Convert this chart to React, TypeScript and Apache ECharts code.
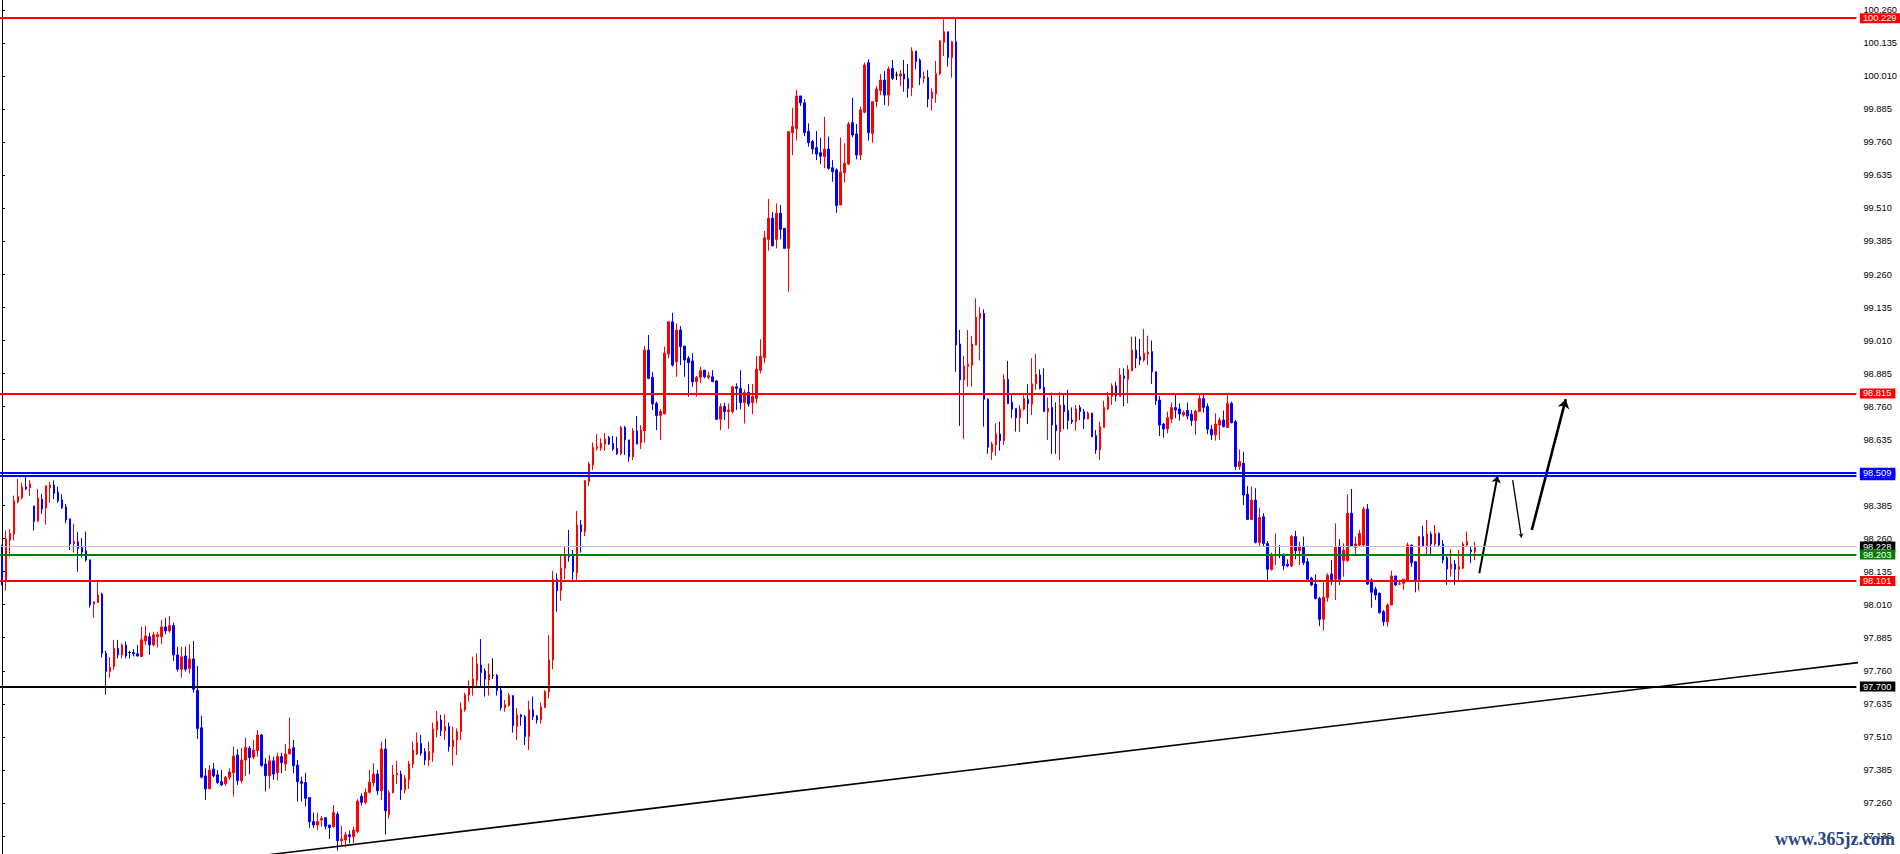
import React, { useEffect, useRef } from 'react';
import * as echarts from 'echarts';

// [open, close, low, high]
const candles: number[][] = [
  [98.180, 98.104, 98.083, 98.237], [98.102, 98.259, 98.063, 98.291], [98.255, 98.280, 98.192, 98.297], [98.278, 98.403, 98.253, 98.423],
  [98.400, 98.419, 98.394, 98.486], [98.415, 98.456, 98.409, 98.472], [98.456, 98.448, 98.444, 98.501], [98.453, 98.468, 98.422, 98.482],
  [98.384, 98.325, 98.291, 98.384], [98.327, 98.414, 98.323, 98.448], [98.409, 98.372, 98.354, 98.429], [98.376, 98.460, 98.313, 98.460],
  [98.453, 98.463, 98.396, 98.475], [98.463, 98.431, 98.410, 98.481], [98.436, 98.403, 98.396, 98.457], [98.407, 98.378, 98.372, 98.428],
  [98.380, 98.331, 98.318, 98.391], [98.335, 98.240, 98.217, 98.335], [98.241, 98.249, 98.207, 98.316], [98.248, 98.223, 98.135, 98.286],
  [98.226, 98.209, 98.189, 98.263], [98.214, 98.180, 98.173, 98.287], [98.180, 98.009, 97.999, 98.180], [98.013, 98.021, 97.961, 98.021],
  [98.018, 98.047, 98.018, 98.097], [98.051, 97.826, 97.810, 98.055], [97.826, 97.757, 97.669, 97.836], [97.757, 97.773, 97.734, 97.812],
  [97.776, 97.845, 97.763, 97.877], [97.845, 97.820, 97.807, 97.877], [97.820, 97.858, 97.807, 97.864], [97.858, 97.816, 97.807, 97.871],
  [97.829, 97.829, 97.807, 97.836], [97.829, 97.824, 97.814, 97.842], [97.824, 97.816, 97.814, 97.858], [97.814, 97.877, 97.814, 97.927],
  [97.873, 97.892, 97.858, 97.930], [97.889, 97.858, 97.820, 97.904], [97.858, 97.896, 97.852, 97.908], [97.889, 97.896, 97.848, 97.908],
  [97.889, 97.926, 97.861, 97.952], [97.926, 97.911, 97.899, 97.960], [97.911, 97.931, 97.904, 97.967], [97.931, 97.820, 97.798, 97.942],
  [97.820, 97.766, 97.757, 97.851], [97.766, 97.813, 97.734, 97.851], [97.816, 97.766, 97.757, 97.851], [97.769, 97.805, 97.750, 97.861],
  [97.805, 97.690, 97.677, 97.873], [97.685, 97.541, 97.502, 97.778], [97.544, 97.357, 97.353, 97.590], [97.362, 97.313, 97.271, 97.391],
  [97.313, 97.384, 97.313, 97.403], [97.388, 97.362, 97.357, 97.411], [97.366, 97.337, 97.332, 97.384], [97.340, 97.328, 97.324, 97.384],
  [97.332, 97.357, 97.324, 97.362], [97.357, 97.377, 97.347, 97.391], [97.374, 97.437, 97.284, 97.473], [97.441, 97.344, 97.328, 97.463],
  [97.344, 97.422, 97.334, 97.467], [97.422, 97.470, 97.362, 97.506], [97.467, 97.431, 97.368, 97.475], [97.433, 97.460, 97.425, 97.498],
  [97.458, 97.517, 97.435, 97.536], [97.517, 97.401, 97.397, 97.521], [97.407, 97.363, 97.303, 97.429], [97.363, 97.419, 97.313, 97.441],
  [97.419, 97.369, 97.347, 97.435], [97.374, 97.435, 97.344, 97.450], [97.435, 97.412, 97.372, 97.450], [97.407, 97.445, 97.381, 97.483],
  [97.445, 97.464, 97.445, 97.583], [97.469, 97.401, 97.372, 97.498], [97.403, 97.340, 97.265, 97.422], [97.340, 97.334, 97.265, 97.359],
  [97.337, 97.277, 97.246, 97.374], [97.280, 97.189, 97.166, 97.280], [97.189, 97.176, 97.164, 97.223], [97.176, 97.189, 97.157, 97.223],
  [97.195, 97.201, 97.170, 97.210], [97.204, 97.172, 97.160, 97.204], [97.176, 97.167, 97.123, 97.176], [97.170, 97.223, 97.166, 97.252],
  [97.218, 97.117, 97.079, 97.227], [97.117, 97.123, 97.097, 97.173], [97.119, 97.139, 97.092, 97.151], [97.139, 97.132, 97.107, 97.155],
  [97.132, 97.157, 97.107, 97.170], [97.151, 97.267, 97.145, 97.274], [97.285, 97.262, 97.250, 97.296], [97.262, 97.300, 97.255, 97.315],
  [97.300, 97.338, 97.296, 97.385], [97.336, 97.369, 97.322, 97.410], [97.369, 97.306, 97.290, 97.385], [97.306, 97.464, 97.271, 97.492],
  [97.464, 97.230, 97.140, 97.502], [97.215, 97.298, 97.200, 97.308], [97.298, 97.366, 97.296, 97.403], [97.366, 97.372, 97.332, 97.419],
  [97.369, 97.309, 97.271, 97.382], [97.309, 97.353, 97.296, 97.366], [97.347, 97.407, 97.313, 97.419], [97.407, 97.460, 97.391, 97.492],
  [97.445, 97.488, 97.441, 97.526], [97.485, 97.448, 97.439, 97.517], [97.454, 97.422, 97.403, 97.467], [97.422, 97.454, 97.400, 97.492],
  [97.450, 97.540, 97.416, 97.564], [97.536, 97.570, 97.508, 97.608], [97.574, 97.533, 97.513, 97.593], [97.533, 97.549, 97.498, 97.595],
  [97.549, 97.473, 97.454, 97.564], [97.473, 97.498, 97.401, 97.549], [97.498, 97.530, 97.441, 97.542], [97.530, 97.615, 97.498, 97.641],
  [97.612, 97.668, 97.605, 97.677], [97.668, 97.700, 97.643, 97.723], [97.700, 97.729, 97.666, 97.813], [97.723, 97.786, 97.694, 97.826],
  [97.782, 97.753, 97.700, 97.880], [97.759, 97.728, 97.662, 97.769], [97.725, 97.747, 97.666, 97.788], [97.742, 97.742, 97.729, 97.807],
  [97.742, 97.685, 97.666, 97.748], [97.687, 97.620, 97.609, 97.700], [97.620, 97.631, 97.605, 97.650], [97.628, 97.666, 97.624, 97.675],
  [97.666, 97.552, 97.526, 97.666], [97.549, 97.593, 97.498, 97.618], [97.593, 97.586, 97.552, 97.596], [97.586, 97.511, 97.479, 97.593],
  [97.511, 97.612, 97.460, 97.647], [97.612, 97.586, 97.574, 97.662], [97.589, 97.574, 97.560, 97.592], [97.574, 97.624, 97.560, 97.639],
  [97.622, 97.681, 97.618, 97.687], [97.681, 97.801, 97.656, 97.895], [97.801, 98.106, 97.766, 98.138], [98.106, 98.063, 97.984, 98.129],
  [98.063, 98.148, 98.025, 98.198], [98.148, 98.194, 98.106, 98.230], [98.198, 98.192, 98.173, 98.293], [98.194, 98.135, 98.104, 98.217],
  [98.131, 98.312, 98.104, 98.365], [98.312, 98.287, 98.207, 98.331], [98.287, 98.480, 98.270, 98.480], [98.476, 98.543, 98.460, 98.552],
  [98.539, 98.606, 98.520, 98.624], [98.602, 98.608, 98.593, 98.656], [98.602, 98.621, 98.593, 98.640], [98.618, 98.637, 98.593, 98.659],
  [98.644, 98.618, 98.615, 98.649], [98.621, 98.599, 98.593, 98.649], [98.602, 98.581, 98.577, 98.646], [98.581, 98.681, 98.577, 98.687],
  [98.681, 98.634, 98.577, 98.687], [98.634, 98.570, 98.551, 98.634], [98.570, 98.668, 98.558, 98.678], [98.668, 98.618, 98.618, 98.724],
  [98.623, 98.671, 98.599, 98.690], [98.668, 98.974, 98.623, 98.989], [98.974, 98.867, 98.863, 99.031], [98.871, 98.770, 98.747, 98.890],
  [98.772, 98.726, 98.671, 98.779], [98.726, 98.741, 98.634, 98.751], [98.732, 98.962, 98.732, 98.987], [98.959, 99.081, 98.943, 99.081],
  [99.081, 98.917, 98.911, 99.115], [98.930, 99.050, 98.873, 99.075], [99.050, 98.987, 98.917, 99.065], [98.989, 98.936, 98.873, 98.989],
  [98.943, 98.926, 98.797, 98.951], [98.933, 98.854, 98.835, 98.962], [98.854, 98.871, 98.797, 98.876], [98.871, 98.896, 98.850, 98.911],
  [98.898, 98.873, 98.867, 98.898], [98.871, 98.877, 98.863, 98.892], [98.873, 98.854, 98.854, 98.898], [98.857, 98.712, 98.709, 98.861],
  [98.712, 98.760, 98.671, 98.772], [98.760, 98.741, 98.709, 98.775], [98.741, 98.747, 98.675, 98.772], [98.741, 98.835, 98.734, 98.839],
  [98.835, 98.829, 98.747, 98.848], [98.829, 98.775, 98.750, 98.898], [98.775, 98.813, 98.696, 98.825], [98.813, 98.770, 98.760, 98.845],
  [98.775, 98.798, 98.731, 98.845], [98.791, 98.902, 98.772, 98.951], [98.898, 98.951, 98.886, 99.015], [98.945, 99.399, 98.924, 99.425],
  [99.393, 99.473, 99.350, 99.546], [99.473, 99.368, 99.368, 99.497], [99.393, 99.492, 99.359, 99.529], [99.492, 99.431, 99.393, 99.523],
  [99.435, 99.359, 99.359, 99.435], [99.359, 99.801, 99.195, 99.801], [99.797, 99.820, 99.712, 99.891], [99.813, 99.936, 99.767, 99.958],
  [99.936, 99.910, 99.898, 99.936], [99.910, 99.797, 99.784, 99.923], [99.801, 99.759, 99.744, 99.832], [99.763, 99.735, 99.716, 99.769],
  [99.740, 99.716, 99.693, 99.803], [99.721, 99.708, 99.678, 99.778], [99.706, 99.735, 99.662, 99.857], [99.735, 99.662, 99.656, 99.782],
  [99.664, 99.649, 99.611, 99.693], [99.656, 99.521, 99.494, 99.662], [99.523, 99.647, 99.523, 99.778], [99.645, 99.681, 99.608, 99.757],
  [99.678, 99.830, 99.674, 99.838], [99.835, 99.788, 99.779, 99.929], [99.792, 99.712, 99.696, 99.830], [99.712, 99.883, 99.693, 99.895],
  [99.874, 100.053, 99.870, 100.062], [100.062, 99.797, 99.767, 100.074], [99.794, 99.914, 99.759, 99.914], [99.914, 99.962, 99.893, 99.973],
  [99.956, 99.996, 99.939, 100.019], [99.996, 99.939, 99.902, 100.030], [99.939, 100.038, 99.898, 100.047], [100.040, 100.003, 99.996, 100.072],
  [100.015, 100.015, 99.996, 100.028], [100.011, 100.019, 99.973, 100.034], [100.019, 100.000, 99.952, 100.072], [100.003, 99.965, 99.929, 100.057],
  [99.967, 100.106, 99.936, 100.120], [100.106, 100.066, 100.037, 100.106], [100.072, 100.005, 99.977, 100.078], [100.003, 100.009, 99.984, 100.028],
  [100.006, 99.924, 99.893, 100.034], [99.927, 99.950, 99.880, 99.965], [99.943, 100.021, 99.910, 100.068], [100.019, 100.144, 100.015, 100.148],
  [100.138, 100.179, 100.087, 100.226], [100.179, 100.081, 100.047, 100.179], [100.081, 100.141, 100.005, 100.145], [100.141, 98.993, 98.892, 100.229],
  [98.997, 98.861, 98.687, 99.050], [98.861, 98.914, 98.637, 98.952], [98.912, 98.921, 98.835, 99.050], [98.917, 98.997, 98.835, 99.027],
  [98.993, 99.098, 98.993, 99.170], [99.094, 99.113, 98.934, 99.136], [99.113, 98.788, 98.684, 99.128], [98.788, 98.606, 98.581, 98.791],
  [98.589, 98.618, 98.558, 98.627], [98.615, 98.656, 98.574, 98.697], [98.656, 98.631, 98.593, 98.703], [98.631, 98.863, 98.615, 98.883],
  [98.863, 98.772, 98.770, 98.933], [98.776, 98.750, 98.716, 98.804], [98.753, 98.718, 98.665, 98.753], [98.718, 98.750, 98.665, 98.766],
  [98.750, 98.791, 98.745, 98.808], [98.787, 98.772, 98.694, 98.844], [98.769, 98.846, 98.728, 98.943], [98.846, 98.883, 98.823, 98.959],
  [98.880, 98.829, 98.825, 98.901], [98.833, 98.741, 98.741, 98.905], [98.741, 98.753, 98.634, 98.795], [98.757, 98.690, 98.581, 98.813],
  [98.690, 98.669, 98.581, 98.776], [98.665, 98.766, 98.558, 98.816], [98.766, 98.741, 98.674, 98.808], [98.745, 98.707, 98.674, 98.823],
  [98.709, 98.703, 98.694, 98.757], [98.703, 98.751, 98.669, 98.766], [98.757, 98.741, 98.709, 98.766], [98.741, 98.713, 98.675, 98.751],
  [98.713, 98.735, 98.712, 98.741], [98.735, 98.646, 98.644, 98.737], [98.650, 98.596, 98.581, 98.671], [98.596, 98.684, 98.558, 98.703],
  [98.681, 98.757, 98.681, 98.782], [98.751, 98.798, 98.747, 98.816], [98.798, 98.838, 98.766, 98.848], [98.838, 98.800, 98.779, 98.854],
  [98.798, 98.880, 98.798, 98.905], [98.876, 98.867, 98.762, 98.905], [98.863, 98.899, 98.772, 98.917], [98.896, 98.974, 98.896, 99.025],
  [98.974, 98.943, 98.905, 99.025], [98.949, 98.936, 98.917, 99.016], [98.936, 98.962, 98.930, 99.054], [98.959, 98.967, 98.917, 99.029],
  [98.968, 98.892, 98.846, 99.010], [98.892, 98.782, 98.766, 98.892], [98.785, 98.690, 98.649, 98.800], [98.694, 98.675, 98.642, 98.697],
  [98.675, 98.718, 98.659, 98.741], [98.713, 98.756, 98.697, 98.776], [98.756, 98.747, 98.716, 98.808], [98.751, 98.732, 98.707, 98.772],
  [98.728, 98.738, 98.722, 98.745], [98.745, 98.724, 98.712, 98.775], [98.732, 98.707, 98.687, 98.747], [98.707, 98.743, 98.652, 98.747],
  [98.741, 98.791, 98.741, 98.808], [98.791, 98.757, 98.737, 98.810], [98.760, 98.674, 98.656, 98.772], [98.674, 98.653, 98.634, 98.690],
  [98.653, 98.694, 98.631, 98.735], [98.690, 98.709, 98.634, 98.719], [98.709, 98.684, 98.681, 98.745], [98.681, 98.772, 98.681, 98.804],
  [98.772, 98.699, 98.697, 98.779], [98.703, 98.533, 98.520, 98.709], [98.533, 98.552, 98.520, 98.598], [98.545, 98.425, 98.387, 98.589],
  [98.428, 98.333, 98.331, 98.459], [98.333, 98.406, 98.333, 98.457], [98.406, 98.246, 98.242, 98.451], [98.246, 98.340, 98.230, 98.377],
  [98.343, 98.242, 98.230, 98.356], [98.242, 98.144, 98.104, 98.251], [98.144, 98.198, 98.139, 98.207], [98.195, 98.198, 98.160, 98.280],
  [98.198, 98.195, 98.186, 98.236], [98.198, 98.157, 98.141, 98.205], [98.163, 98.157, 98.152, 98.182], [98.157, 98.268, 98.152, 98.274],
  [98.268, 98.214, 98.182, 98.290], [98.214, 98.230, 98.160, 98.249], [98.230, 98.169, 98.160, 98.268], [98.173, 98.106, 98.097, 98.186],
  [98.110, 98.085, 98.081, 98.116], [98.088, 98.034, 98.030, 98.125], [98.034, 97.955, 97.929, 98.040], [97.955, 98.038, 97.912, 98.097],
  [98.037, 98.122, 98.022, 98.129], [98.126, 98.104, 98.085, 98.179], [98.106, 98.230, 98.028, 98.318], [98.232, 98.106, 98.085, 98.258],
  [98.177, 98.217, 98.116, 98.242], [98.177, 98.356, 98.173, 98.428], [98.356, 98.230, 98.230, 98.448], [98.227, 98.240, 98.198, 98.268],
  [98.236, 98.280, 98.232, 98.293], [98.236, 98.372, 98.232, 98.381], [98.372, 98.088, 98.085, 98.391], [98.104, 98.057, 97.999, 98.110],
  [98.069, 98.047, 98.028, 98.078], [98.053, 97.980, 97.977, 98.056], [97.984, 97.946, 97.930, 97.990], [97.946, 98.009, 97.927, 98.015],
  [98.009, 98.119, 98.009, 98.139], [98.119, 98.085, 98.081, 98.119], [98.088, 98.089, 98.085, 98.100], [98.091, 98.107, 98.066, 98.107],
  [98.101, 98.236, 98.097, 98.245], [98.236, 98.169, 98.154, 98.236], [98.173, 98.104, 98.057, 98.173], [98.104, 98.268, 98.063, 98.268],
  [98.268, 98.230, 98.230, 98.309], [98.230, 98.278, 98.194, 98.331], [98.278, 98.240, 98.194, 98.287], [98.240, 98.280, 98.230, 98.312],
  [98.280, 98.236, 98.230, 98.283], [98.240, 98.179, 98.167, 98.255], [98.188, 98.145, 98.085, 98.198], [98.145, 98.164, 98.116, 98.220],
  [98.164, 98.144, 98.085, 98.179], [98.144, 98.154, 98.101, 98.217], [98.148, 98.240, 98.144, 98.249], [98.236, 98.249, 98.230, 98.287],
  [98.217, 98.211, 98.167, 98.233], [98.211, 98.227, 98.179, 98.249],
];

// empty bar slots to the right of the last candle
const totalSlots = 465;
const categories = Array.from({ length: totalSlots }, (_, i) => 'bar ' + (i + 1));

// price scale
const yMin = 97.01;
const yMax = 100.385;
const yStep = 0.125;

// horizontal levels
const levelPrices = [100.229, 98.815, 98.498, 98.509, 98.228, 98.203, 98.101, 97.7];
const levelLabels = ['100.229', '98.815', '98.498', '98.509', '98.228', '98.203', '98.101', '97.700'];

// trend line [barIndex, price]
const trendPoints = [[60, 97.051], [465, 97.791]];

// forecast arrows [barIndex, price] -> [barIndex, price]
const arrowPaths = [
  [[370.05, 98.129], [374.6, 98.498]],
  [[378.4, 98.482], [380.6, 98.264]],
  [[383.2, 98.293], [391.7, 98.788]],
];

const levelStyles = [
  { line: '#ff0000', tag: '#ff0000', width: 2 },
  { line: '#ff0000', tag: '#ff0000', width: 2 },
  { line: '#0000ff', tag: '#0000ff', width: 2 },
  { line: '#0000ff', tag: '#0000ff', width: 2 },
  { line: '#c0c0c0', tag: '#000000', width: 1 },
  { line: '#008000', tag: '#008000', width: 2 },
  { line: '#ff0000', tag: '#ff0000', width: 2 },
  { line: '#000000', tag: '#000000', width: 2 },
];
const arrowWidths = [2, 1.3, 2.6];
const arrowHeads = [7, 4, 9];

const FONT = '"Liberation Sans", Arial, sans-serif';
// the chart box reaches a little above and below the visible page
const SHIFT = 30;

export default function App() {
  const ref = useRef<HTMLDivElement>(null);

  useEffect(() => {
    document.body.style.margin = '0';
    document.body.style.overflow = 'hidden';
    const chart = echarts.init(ref.current!, null, { renderer: 'svg' });
    const option: any = {
      animation: false,
      backgroundColor: '#ffffff',
      grid: { left: -0.5, top: SHIFT - 22.7, width: 1860, height: 891.6, containLabel: false },
      xAxis: [
        { type: 'category', data: categories, show: false, boundaryGap: true },
        { type: 'value', min: -0.5, max: totalSlots - 0.5, show: false },
      ],
      yAxis: {
        type: 'value',
        position: 'right',
        offset: 2,
        min: yMin,
        max: yMax,
        interval: yStep,
        axisLine: { show: true, lineStyle: { color: '#000000', width: 1 } },
        axisTick: { show: true, length: 3, lineStyle: { color: '#000000', width: 1 } },
        axisLabel: {
          margin: 5,
          color: '#000000',
          fontSize: 9.3,
          fontFamily: FONT,
          formatter: (v: number) => v.toFixed(3),
        },
        splitLine: { show: false },
      },
      series: [
        {
          type: 'candlestick',
          xAxisIndex: 0,
          yAxisIndex: 0,
          data: candles,
          barWidth: 2,
          silent: true,
          itemStyle: {
            color: '#ff0000',
            color0: '#0000ff',
            borderColor: '#ff0000',
            borderColor0: '#0000ff',
            borderColorDoji: '#000000',
            borderWidth: 1,
          },
          markLine: {
            silent: true,
            symbol: ['none', 'none'],
            animation: false,
            data: levelPrices.map((p, i) => ({
              yAxis: p,
              lineStyle: { color: levelStyles[i].line, width: levelStyles[i].width, type: 'solid' },
              label: {
                show: true,
                position: 'end',
                distance: 3.5,
                formatter: levelLabels[i],
                color: '#ffffff',
                backgroundColor: levelStyles[i].tag,
                padding: [0, 4, 0, 3],
                lineHeight: 10,
                fontSize: 9.3,
                fontFamily: FONT,
              },
            })),
          },
        },
        {
          type: 'line',
          xAxisIndex: 1,
          yAxisIndex: 0,
          data: trendPoints,
          symbol: 'none',
          showSymbol: false,
          silent: true,
          lineStyle: { color: '#000000', width: 1.6 },
        },
        {
          type: 'lines',
          coordinateSystem: 'cartesian2d',
          xAxisIndex: 1,
          yAxisIndex: 0,
          silent: true,
          symbol: ['none', 'arrow'],
          symbolSize: 8,
          lineStyle: { color: '#000000', width: 2, opacity: 1, curveness: 0 },
          data: arrowPaths.map((coords, i) => ({
            coords,
            symbolSize: arrowHeads[i],
            lineStyle: { width: arrowWidths[i] },
          })),
        },
      ],
      graphic: [
        {
          type: 'text',
          z: 100,
          x: 1775,
          y: SHIFT + 848,
          style: {
            text: 'www.365jz.com',
            font: 'bold 18px "Liberation Serif", serif',
            fill: '#264684',
            align: 'left',
            verticalAlign: 'bottom',
          },
        },
      ],
    };
    chart.setOption(option);
    return () => chart.dispose();
  }, []);

  return (
    <div
      ref={ref}
      style={{ position: 'fixed', left: 0, top: -SHIFT, width: 1900, height: 854 + 2 * SHIFT, background: '#ffffff' }}
    />
  );
}
